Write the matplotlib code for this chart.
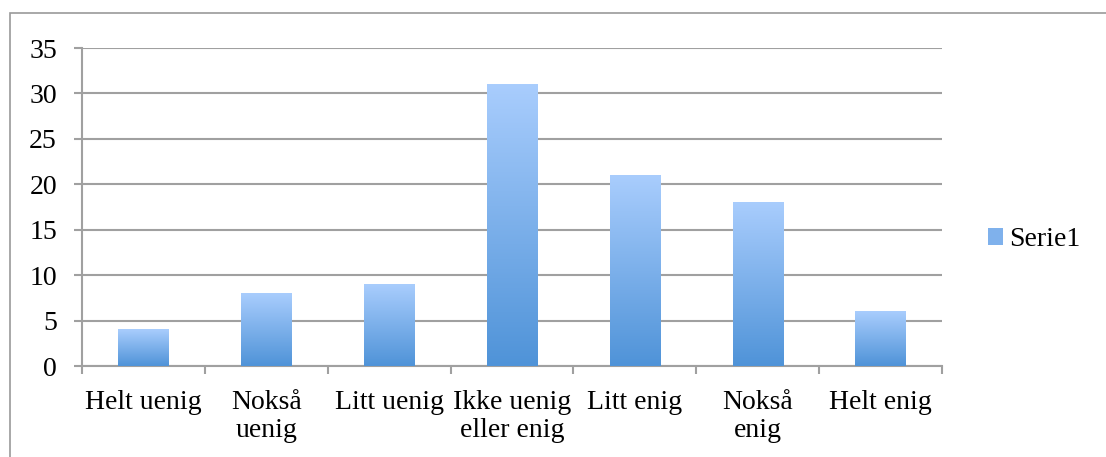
import matplotlib
matplotlib.use("Agg")
import matplotlib.pyplot as plt
import numpy as np
from matplotlib.colors import LinearSegmentedColormap
from matplotlib.patches import Rectangle, Patch

# data
categories = ["Helt uenig", "Nokså\nuenig", "Litt uenig", "Ikke uenig\neller enig",
              "Litt enig", "Nokså\nenig", "Helt enig"]
values = [4, 8, 9, 31, 21, 18, 6]
series_name = "Serie1"

plt.rcParams['font.family'] = ['Liberation Serif', 'DejaVu Serif']

fig = plt.figure(figsize=(11.06, 4.57), dpi=100)
ax = fig.add_axes([82 / 1106, 1 - 366 / 457, (942 - 82) / 1106, (366 - 48) / 457])

# frame around the chart area
fig.patches.append(Rectangle((10 / 1106, -0.1), 1.2, 1 - 13 / 457 + 0.1,
                             transform=fig.transFigure, fill=False,
                             edgecolor="#9a9a9a", linewidth=1.2))

grad = LinearSegmentedColormap.from_list("g", ["#4f93d8", "#a9cdfd"])
x = np.arange(len(values))
width = 0.41
bars = ax.bar(x, values, width=width, color="none", edgecolor="none", zorder=3,
              label=series_name)
g = np.linspace(0, 1, 256).reshape(-1, 1)
for b in bars:
    x0, y0 = b.get_x(), b.get_y()
    w, h = b.get_width(), b.get_height()
    ax.imshow(g, cmap=grad, origin="lower", aspect="auto",
              extent=(x0, x0 + w, y0, y0 + h), zorder=3)

ax.set_xlim(-0.5, len(values) - 0.5)
ax.set_ylim(0, 35)
ax.set_yticks(range(0, 36, 5))
ax.yaxis.grid(True, color="#a0a0a0", linewidth=1.5, zorder=0)
ax.set_axisbelow(True)

ax.set_xticks(np.arange(len(values) + 1) - 0.5)
ax.set_xticklabels([])
ax.set_xticks(x, minor=True)
ax.set_xticklabels(categories, minor=True, fontsize=20, linespacing=1.2, va="top")
ax.tick_params(axis="x", which="minor", length=0, pad=17)
ax.tick_params(axis="x", which="major", length=6, width=1.5, color="#a0a0a0", direction="out")
ax.tick_params(axis="y", length=6, width=1.5, color="#a0a0a0", labelsize=20, pad=12)

for s in ["top", "right"]:
    ax.spines[s].set_visible(False)
for s in ["left", "bottom"]:
    ax.spines[s].set_color("#a0a0a0")
    ax.spines[s].set_linewidth(1.5)

h = Patch(facecolor="#7fb1ec", edgecolor="none")
leg = fig.legend([h], [series_name], loc="center left", bbox_to_anchor=(988 / 1106, 1 - 240 / 457),
                 frameon=False, fontsize=20, handlelength=0.55, handleheight=0.55,
                 handletextpad=0.2, borderaxespad=0, borderpad=0)

fig.savefig("out.png", dpi=100)
